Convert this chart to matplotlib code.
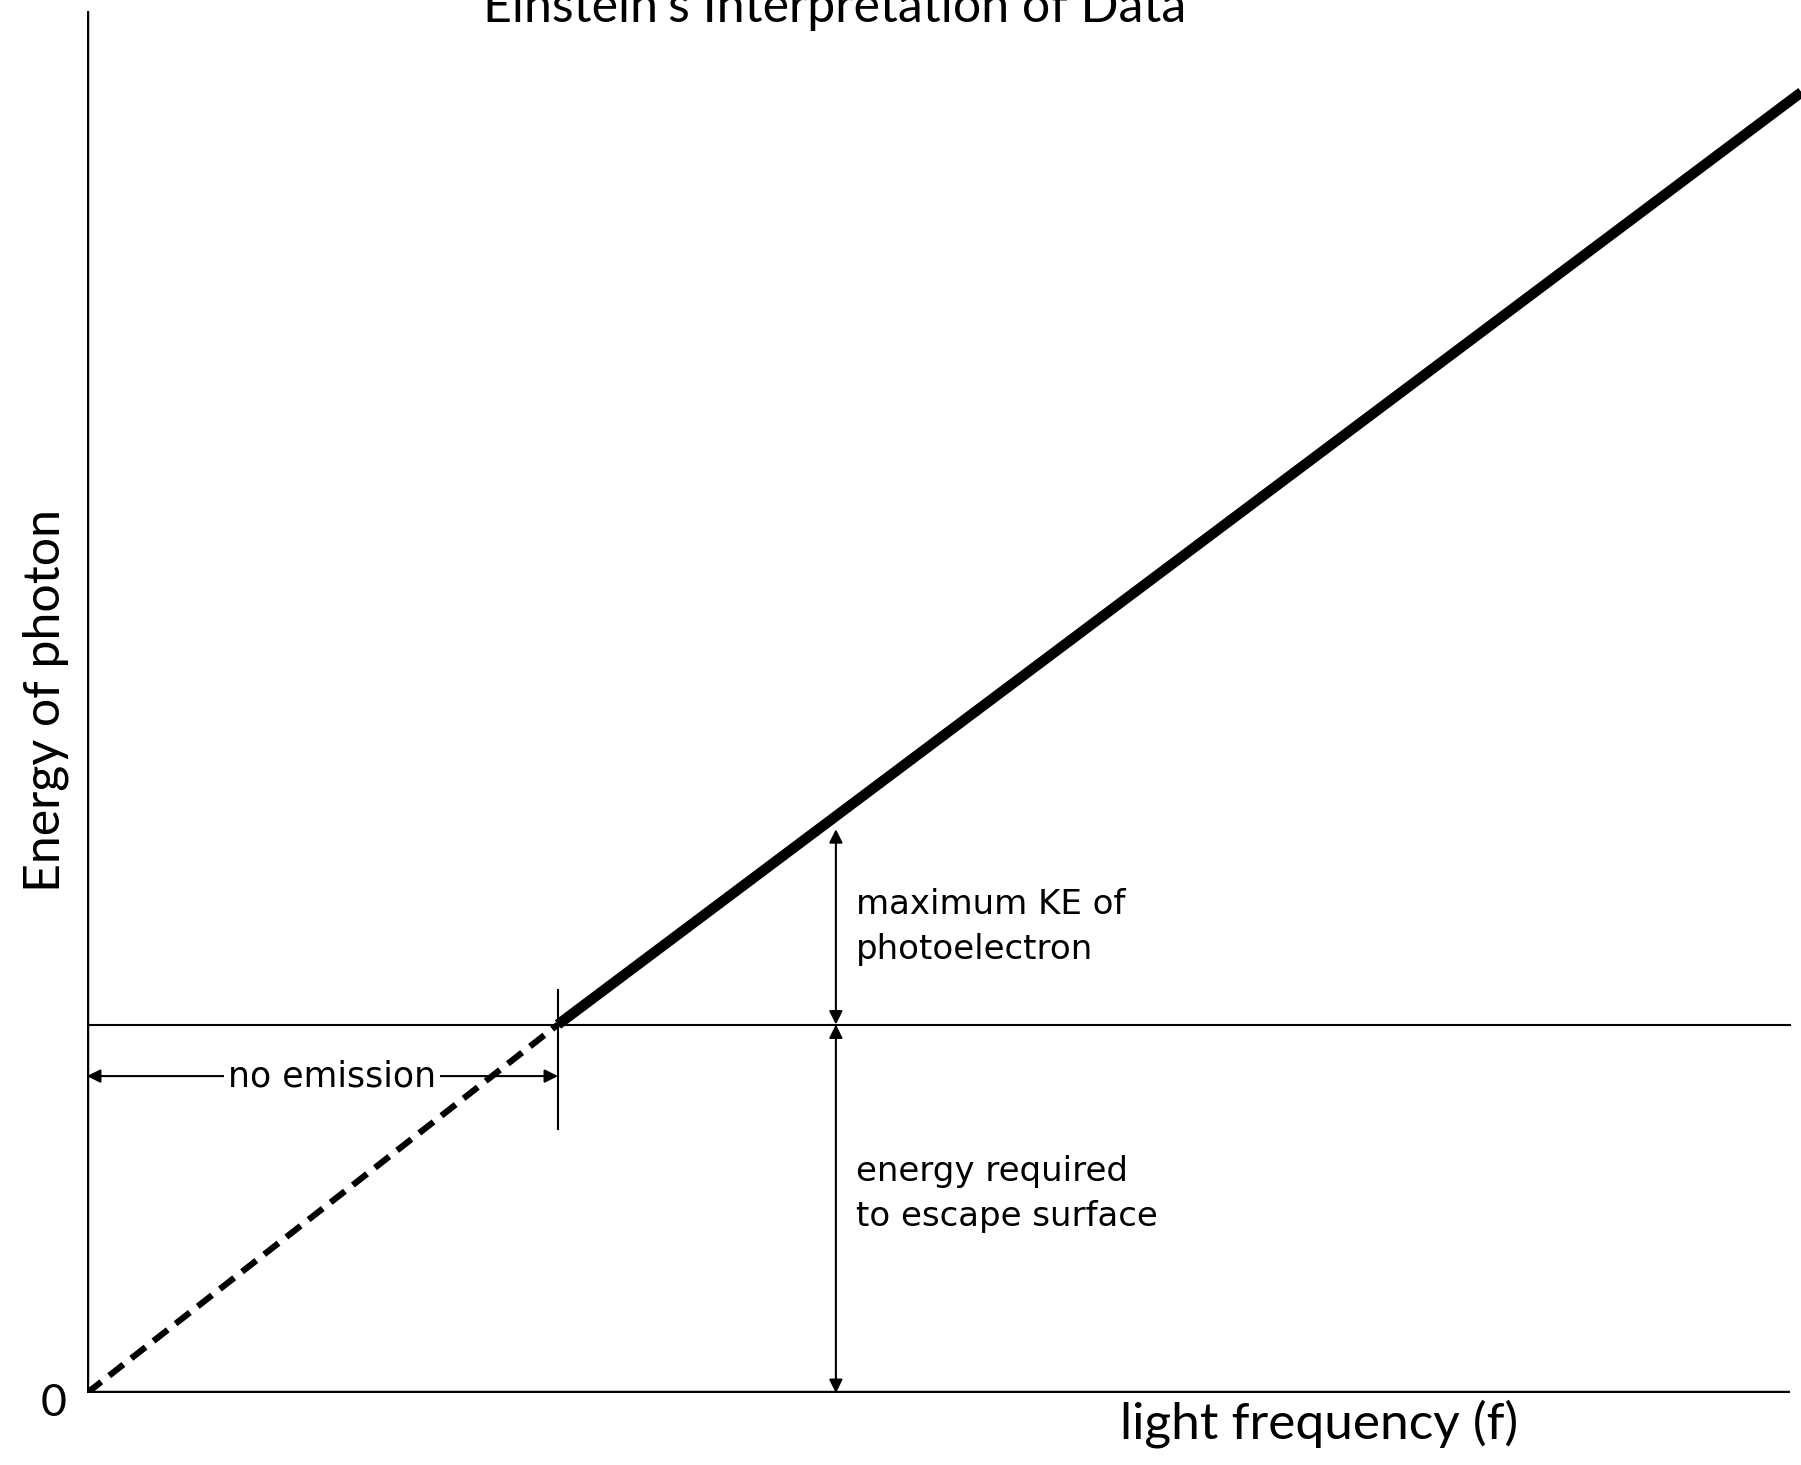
import matplotlib
matplotlib.use("Agg")
import matplotlib.pyplot as plt

plt.rcParams['font.family'] = ['Lato', 'DejaVu Sans']

# threshold frequency and work function (arbitrary units, both set to 1)
f_threshold = 1.0
work_function = 1.0

# dashed extrapolation below threshold (origin -> threshold)
dashed_f = [0.0, f_threshold]
dashed_E = [0.0, work_function]

# solid photon-energy line above threshold
solid_f = [f_threshold, 3.64]
solid_E = [work_function, 3.53]

# where the KE / work-function arrows stand
arrow_f = 1.59
arrow_E_top = 1.53

title = "Einstein's Interpretation of Data"
ylabel = "Energy of photon"
xlabel = "light frequency (f)"

fig = plt.figure(figsize=(18.01, 14.65), dpi=100)
ax = fig.add_axes([87 / 1801, 72 / 1465, (1801 - 87) / 1801, 1393 / 1465])
ax.set_xlim(0, (1801 - 87) / 471)
ax.set_ylim(0, 1393 / 368.5)
ax.axis('off')

# axes lines
ax.plot([0, 0], [0, 3.75], color='black', lw=3.2, solid_capstyle='butt')
ax.plot([0, 3.615], [0, 0], color='black', lw=3.2, solid_capstyle='butt')

# work-function level
ax.plot([0, 3.615], [work_function, work_function], color='black', lw=1.5)

# the data line
ax.plot(dashed_f, dashed_E, color='black', lw=4.5, ls=(0, (2.9, 1.6)))
ax.plot(solid_f, solid_E, color='black', lw=7.5, solid_capstyle='butt')

# threshold tick
ax.plot([f_threshold, f_threshold], [0.716, 1.094], color='black', lw=1.5)

ann_font = ['DejaVu Sans']
arrow_kw = dict(arrowstyle='<|-|>', color='black', lw=1.5,
                mutation_scale=20, shrinkA=0, shrinkB=0)

# "no emission" span
ax.annotate('', xy=(0, 0.86), xytext=(f_threshold, 0.86), arrowprops=arrow_kw)
ax.text(0.52, 0.86, 'no emission', ha='center', va='center', fontsize=25,
        family=ann_font, bbox=dict(facecolor='white', edgecolor='none', pad=3))

# KE arrow and work-function arrow
ax.annotate('', xy=(arrow_f, arrow_E_top), xytext=(arrow_f, work_function),
            arrowprops=arrow_kw)
ax.annotate('', xy=(arrow_f, work_function), xytext=(arrow_f, 0),
            arrowprops=arrow_kw)

ax.text(1.633, 1.265, 'maximum KE of\nphotoelectron', ha='left', va='center',
        fontsize=24.5, family=ann_font, linespacing=1.45)
ax.text(1.633, 0.54, 'energy required\nto escape surface', ha='left', va='center',
        fontsize=24.5, family=ann_font, linespacing=1.45)

fig.text(54 / 1801, 1 - 1404 / 1465, '0', ha='center', va='center', fontsize=32)
fig.text(46 / 1801, 1 - 700 / 1465, ylabel, ha='center', va='center',
         rotation=90, fontsize=36)
fig.text(1319 / 1801, 1 - 1424 / 1465, xlabel, ha='center', va='center', fontsize=37)
fig.text(835 / 1801, 1 - 22 / 1465, title, ha='center', va='baseline', fontsize=36)

fig.savefig('out.png', dpi=100)
